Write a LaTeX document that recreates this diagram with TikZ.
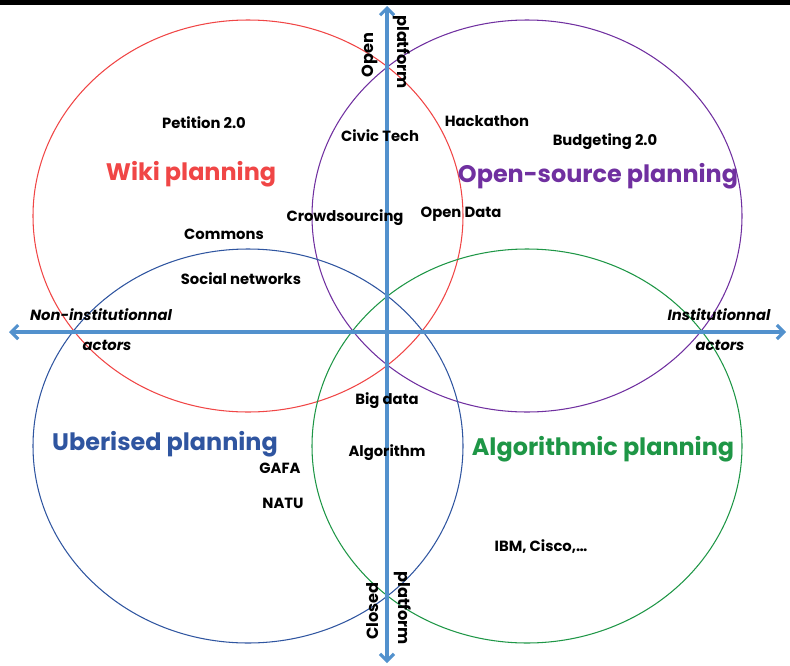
\documentclass[tikz,border=0pt]{standalone}
\usepackage{fontspec}
\setmainfont{Poppins}
\usetikzlibrary{arrows.meta}
\definecolor{wikired}{RGB}{240,70,70}
\definecolor{opsviolet}{RGB}{112,48,160}
\definecolor{uberblue}{RGB}{47,85,160}
\definecolor{algogreen}{RGB}{30,150,70}
\definecolor{axisblue}{RGB}{82,145,205}
\tikzset{
  zone/.style={line width=0.75pt},
  axe/.style={line width=2.2pt,axisblue,{Straight Barb[length=5pt,width=10pt]}-{Straight Barb[length=5pt,width=10pt]}},
  titre/.style={font=\fontsize{17}{19}\selectfont\bfseries},
  mot/.style={font=\fontsize{10.5}{12}\selectfont\bfseries},
  pole/.style={font=\fontsize{10.5}{12}\selectfont\bfseries\itshape},
  vertical/.style={font=\fontsize{11.5}{13}\selectfont\bfseries},
}
\begin{document}
\begin{tikzpicture}[x=0.025cm,y=-0.025cm]
\useasboundingbox (0,0) rectangle (790,665);
%					Bandeau du haut :
\fill[black] (0,0) rectangle (790,5);
%					Tracé des quatre ellipses :
\draw[zone,wikired] (248,216) ellipse [x radius=215, y radius=196];
\draw[zone,opsviolet] (527,216) ellipse [x radius=215, y radius=196];
\draw[zone,uberblue] (248,446) ellipse [x radius=215, y radius=197];
\draw[zone,algogreen] (527,446) ellipse [x radius=215, y radius=197];
%					Tracé des axes :
\coordinate (haut) at (387,6);
\coordinate (bas) at (387,663);
\coordinate (gauche) at (9,332);
\coordinate (droite) at (786,332);
\draw[axe] (bas) -- (haut);
\draw[axe] (gauche) -- (droite);
%					Titres des zones :
\node[titre,wikired] (wiki) at (191,174) {Wiki planning};
\node[titre,opsviolet] (opensource) at (598,176) {Open-source planning};
\node[titre,uberblue] (uber) at (165,444) {Uberised planning};
\node[titre,algogreen] (algo) at (603,449) {Algorithmic planning};
%					Exemples :
\node[mot] (petition) at (204,123) {Petition 2.0};
\node[mot] (civic) at (380,136) {Civic Tech};
\node[mot] (hackathon) at (487,121) {Hackathon};
\node[mot] (budgeting) at (605,142) {Budgeting 2.0};
\node[mot] (crowd) at (345,218) {Crowdsourcing};
\node[mot] (opendata) at (461,214) {Open Data};
\node[mot] (commons) at (224,234) {Commons};
\node[mot] (social) at (241,279) {Social networks};
\node[mot] (bigdata) at (387,401) {Big data};
\node[mot] (algorithm) at (387,453) {Algorithm};
\node[mot] (gafa) at (280,468) {GAFA};
\node[mot] (natu) at (283,503) {NATU};
\node[mot] (ibm) at (541,547) {IBM, Cisco,\dots};
%					Pôles des axes :
\node[pole] (noninst) at (101,315) {Non-institutionnal};
\node[pole] (actg) at (107,345) {actors};
\node[pole] (inst) at (719,315) {Institutionnal};
\node[pole] (actd) at (720,345) {actors};
\node[vertical,rotate=90] (open) at (370,55) {Open};
\node[vertical,rotate=-90] (plath) at (402,52) {platform};
\node[vertical,rotate=90] (closed) at (373,611) {Closed};
\node[vertical,rotate=-90] (platb) at (403,608) {platform};
\end{tikzpicture}
\end{document}
